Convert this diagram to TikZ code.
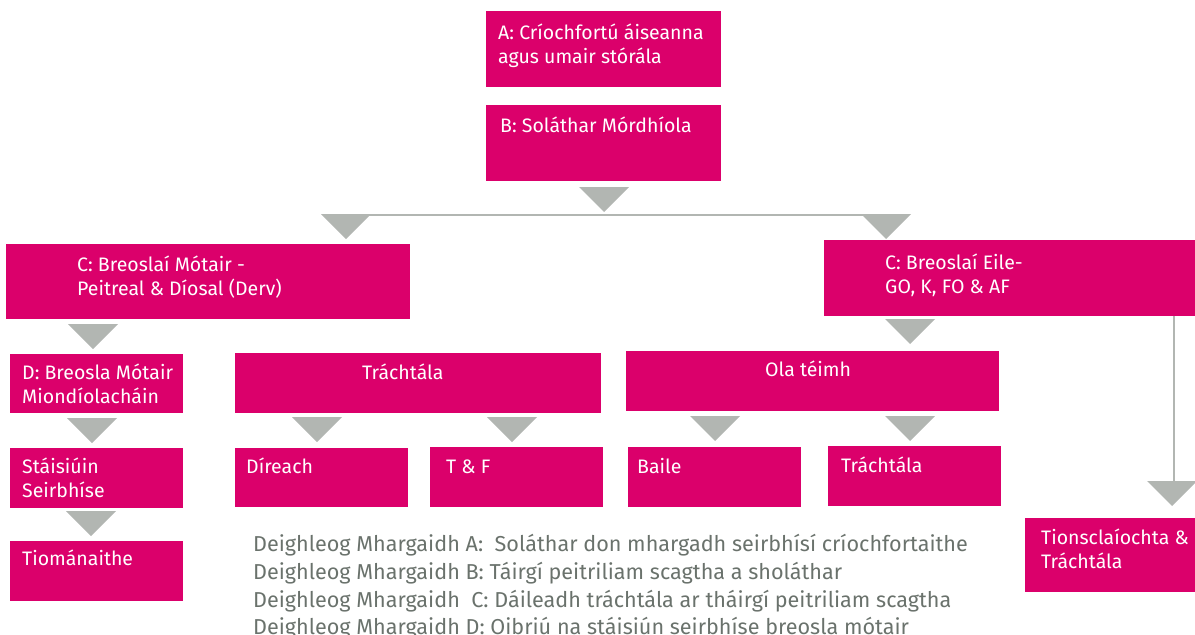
\documentclass[tikz,border=0pt]{standalone}
\usepackage{fontspec}
\setmainfont{Fira Sans}
\usetikzlibrary{calc}
\definecolor{boxred}{RGB}{219,0,107}
\definecolor{arrowgrey}{RGB}{178,182,178}
\definecolor{notegrey}{RGB}{106,114,108}
\tikzset{box/.style={fill=boxred, anchor=north west, inner sep=0pt},
  boxtext/.style={text=white, anchor=base west, inner sep=0pt, align=left,
    font=\fontsize{19.5}{24}\selectfont},
  note/.style={text=notegrey, anchor=base west, inner sep=0pt,
    font=\fontsize{21.6}{28}\selectfont},
  tri/.style={fill=arrowgrey},
  link/.style={draw=arrowgrey, line width=2.5pt}}
% grey arrow head, top centre at #1
\newcommand\downtri[1]{\fill[tri] ($#1+(-25,0)$) -- ($#1+(25,0)$) -- ($#1+(0,25)$) -- cycle;}

\begin{document}
\begin{tikzpicture}[x=1pt, y=-1pt]
\useasboundingbox (0,0) rectangle (1195,635);

% top (two-line texts sit on their last baseline)
\node[box, minimum width=235pt, minimum height=76pt] (A) at (486,11) {};
\node[boxtext] (A-t) at (498,63) {A: Críochfortú áiseanna\\agus umair stórála};
\node[box, minimum width=235pt, minimum height=76pt] (B) at (486,105) {};
\node[boxtext] (B-t) at (500,132) {B: Soláthar Mórdhíola};

% split
\coordinate (left) at (346,215);
\coordinate (right) at (886,215);
\draw[link] (left) -- (right);
\downtri{(604,187)}
\downtri{(346,214)}
\downtri{(886,214)}

% C level
\node[box, minimum width=404pt, minimum height=75pt] (C1) at (6,244) {};
\node[boxtext] (C1-t) at (77,295) {C: Breoslaí Mótair -\\Peitreal \& Díosal (Derv)};
\node[box, minimum width=371pt, minimum height=76pt] (C2) at (824,240) {};
\node[boxtext] (C2-t) at (885,293) {C: Breoslaí Eile-\\GO, K, FO \& AF};

% left branch
\downtri{(93,324)}
\node[box, minimum width=173pt, minimum height=59pt] (D) at (10,354) {};
\node[boxtext] (D-t) at (22,403) {D: Breosla Mótair\\Miondíolacháin};
\downtri{(92,418)}
\node[box, minimum width=173pt, minimum height=60pt] (S) at (10,448) {};
\node[boxtext] (S-t) at (22,497) {Stáisiúin\\Seirbhíse};
\downtri{(91,511)}
\node[box, minimum width=173pt, minimum height=60pt] (T) at (10,541) {};
\node[boxtext] (T-t) at (22,565) {Tiománaithe};

% commercial
\node[box, minimum width=366pt, minimum height=60pt] (Tr) at (235,353) {};
\node[boxtext] (Tr-t) at (362,379) {Tráchtála};
\downtri{(317,417)}
\downtri{(512,417)}
\node[box, minimum width=173pt, minimum height=59pt] (Di) at (235,448) {};
\node[boxtext] (Di-t) at (246,473) {Díreach};
\node[box, minimum width=173pt, minimum height=60pt] (TF) at (430,447) {};
\node[boxtext] (TF-t) at (446,473) {T \& F};

% heating oil
\downtri{(910,319)}
\node[box, minimum width=373pt, minimum height=60pt] (Ola) at (626,351) {};
\node[boxtext] (Ola-t) at (765,376) {Ola téimh};
\downtri{(715,416)}
\downtri{(910,416)}
\node[box, minimum width=173pt, minimum height=60pt] (Ba) at (628,447) {};
\node[boxtext] (Ba-t) at (637,473) {Baile};
\node[box, minimum width=173pt, minimum height=60pt] (Tr2) at (828,446) {};
\node[boxtext] (Tr2-t) at (841,472) {Tráchtála};

% industrial
\node[box, minimum width=170pt, minimum height=74pt] (TT) at (1025,518) {};
\node[boxtext] (TT-t) at (1041,568) {Tionsclaíochta \&\\Tráchtála};
\coordinate (drop) at (1174,481);
\draw[link] (C2.south -| drop) -- (drop);
\downtri{(1172,481)}

% notes
\node[note] (n1) at (253,551) {Deighleog Mhargaidh A:\ \ Soláthar don mhargadh seirbhísí críochfortaithe};
\node[note] (n2) at (253,579) {Deighleog Mhargaidh B: Táirgí peitriliam scagtha a sholáthar};
\node[note] (n3) at (253,607) {Deighleog Mhargaidh\ \ C: Dáileadh tráchtála ar tháirgí peitriliam scagtha};
\node[note] (n4) at (253,634) {Deighleog Mhargaidh D: Oibriú na stáisiún seirbhíse breosla mótair};
\end{tikzpicture}
\end{document}
